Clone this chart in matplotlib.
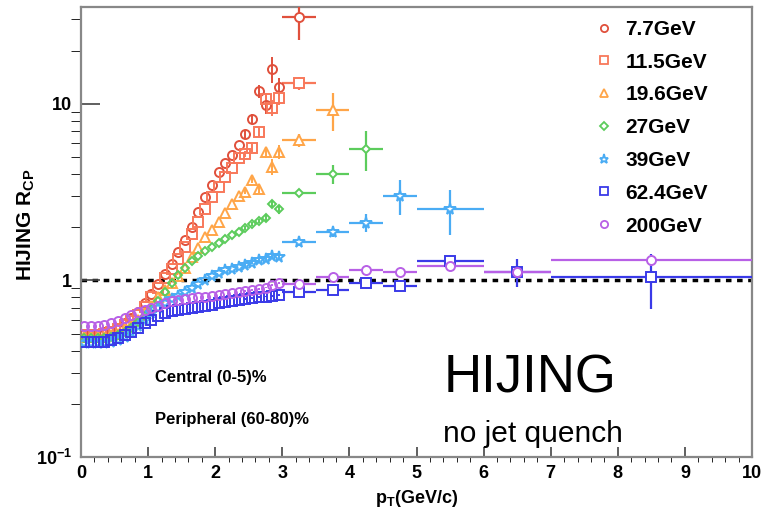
import matplotlib
matplotlib.use("Agg")
import matplotlib.pyplot as plt
from matplotlib.lines import Line2D
from matplotlib.ticker import FixedLocator, FixedFormatter, MultipleLocator

plt.rcParams["font.family"] = ["Liberation Sans", "DejaVu Sans"]
plt.rcParams["font.weight"] = "bold"
plt.rcParams["mathtext.fontset"] = "custom"
plt.rcParams["mathtext.rm"] = "Liberation Sans:bold"
plt.rcParams["mathtext.bf"] = "Liberation Sans:bold"
plt.rcParams["mathtext.it"] = "Liberation Sans:bold"

# fine pT bins (width 0.1)
pt_fine = [0.05, 0.15, 0.25, 0.35, 0.45, 0.55, 0.65, 0.75, 0.85, 0.95,
           1.05, 1.15, 1.25, 1.35, 1.45, 1.55, 1.65, 1.75, 1.85, 1.95,
           2.05, 2.15, 2.25, 2.35, 2.45, 2.55, 2.65, 2.75, 2.85, 2.95]
# wide pT bins
pt_wide = [3.25, 3.75, 4.25, 4.75, 5.5, 6.5, 8.5]
pt_wide_hw = [0.25, 0.25, 0.25, 0.25, 0.5, 0.5, 1.5]

labels = ["7.7GeV", "11.5GeV", "19.6GeV", "27GeV", "39GeV", "62.4GeV", "200GeV"]

r77 = [0.50, 0.50, 0.50, 0.51, 0.52, 0.54, 0.57, 0.61, 0.66, 0.74,
       0.84, 0.96, 1.08, 1.23, 1.44, 1.70, 2.00, 2.45, 2.95, 3.45,
       4.10, 4.60, 5.15, 5.85, 6.70, 8.20, 11.8, 9.9, 15.8, 12.5]
r115 = [0.49, 0.49, 0.49, 0.50, 0.51, 0.53, 0.56, 0.59, 0.64, 0.71,
        0.80, 0.91, 1.03, 1.16, 1.33, 1.55, 1.82, 2.15, 2.55, 2.95,
        3.40, 3.85, 4.35, 4.90, 5.20, 5.60, 6.90, 10.7, 9.5, 10.8]
r196 = [0.48, 0.48, 0.48, 0.48, 0.49, 0.50, 0.53, 0.56, 0.60, 0.65,
        0.72, 0.80, 0.88, 0.97, 1.06, 1.18, 1.35, 1.53, 1.75, 1.94,
        2.15, 2.42, 2.69, 3.02, 3.18, 3.70, 3.31, 5.30, 4.40, 5.35]
r27 = [0.47, 0.47, 0.47, 0.47, 0.48, 0.49, 0.51, 0.54, 0.58, 0.63,
       0.69, 0.76, 0.86, 0.97, 1.07, 1.17, 1.28, 1.37, 1.46, 1.54,
       1.62, 1.71, 1.80, 1.88, 1.98, 2.08, 2.17, 2.25, 2.72, 2.52]
r39 = [0.44, 0.44, 0.44, 0.44, 0.45, 0.46, 0.48, 0.51, 0.55, 0.60,
       0.65, 0.70, 0.74, 0.78, 0.82, 0.86, 0.90, 0.95, 1.00, 1.06,
       1.10, 1.14, 1.16, 1.19, 1.22, 1.26, 1.31, 1.33, 1.37, 1.36]
r624 = [0.45, 0.45, 0.45, 0.45, 0.46, 0.47, 0.49, 0.51, 0.54, 0.57,
        0.60, 0.63, 0.65, 0.67, 0.68, 0.69, 0.70, 0.71, 0.72, 0.73,
        0.745, 0.75, 0.76, 0.775, 0.78, 0.79, 0.805, 0.81, 0.82, 0.83]
r200 = [0.55, 0.55, 0.55, 0.56, 0.57, 0.59, 0.61, 0.64, 0.66, 0.68,
        0.70, 0.72, 0.74, 0.76, 0.77, 0.78, 0.79, 0.80, 0.81, 0.82,
        0.83, 0.84, 0.85, 0.86, 0.87, 0.88, 0.89, 0.91, 0.94, 0.97]

# y errors on the last six fine bins (pT 2.45 - 2.95)
tail77 = [0.3, 0.5, 1.0, 1.2, 2.7, 1.5]
tail115 = [0.2, 0.3, 0.4, 0.8, 1.0, 1.0]
tail196 = [0.1, 0.15, 0.2, 0.4, 0.45, 0.5]
tail27 = [0.04, 0.05, 0.06, 0.08, 0.15, 0.15]
tail39 = [0.03, 0.03, 0.04, 0.04, 0.05, 0.05]
tail624 = [0.01, 0.01, 0.01, 0.01, 0.01, 0.01]
tail200 = [0.01, 0.01, 0.01, 0.01, 0.01, 0.01]

w77, we77 = [31.0], [8.0]
w115, we115 = [13.1], [1.1]
w196, we196 = [6.2, 9.25], [0.5, 2.2]
w27, we27 = [3.14, 4.0, 5.57], [0.15, 0.5, 1.4]
w39, we39 = [1.64, 1.87, 2.12, 3.02, 2.52], [0.08, 0.12, 0.25, 0.68, 0.72]
w624, we624 = [0.855, 0.88, 0.97, 0.93, 1.28, 1.12, 1.05], [0.02, 0.03, 0.05, 0.06, 0.1, 0.2, 0.36]
w200, we200 = [0.95, 1.04, 1.14, 1.12, 1.2, 1.12, 1.3], [0.02, 0.03, 0.04, 0.05, 0.06, 0.08, 0.1]

series = [
    (r77, tail77, w77, we77, "#e0503c", "o", 6.5),
    (r115, tail115, w115, we115, "#f8785a", "s", 6.5),
    (r196, tail196, w196, we196, "#ffa548", "^", 6.5),
    (r27, tail27, w27, we27, "#5ccc5c", "D", 4.5),
    (r39, tail39, w39, we39, "#4aacf4", "*", 8.5),
    (r624, tail624, w624, we624, "#3a3ae8", "s", 6.5),
    (r200, tail200, w200, we200, "#b860e6", "o", 6.5),
]

fig = plt.figure(figsize=(7.64, 5.08), dpi=100)
ax = fig.add_axes([81 / 764, 51 / 508, 671 / 764, 450 / 508])

ax.axhline(1.0, color="black", lw=2.5, ls=(0, (1.6, 1.6)), zorder=1)

for vals, tail, wv, we, col, mk, ms in series:
    yerr = [0.0] * (len(vals) - len(tail)) + tail
    ax.errorbar(pt_fine, vals, yerr=yerr, fmt=mk, color=col, mfc="none",
                mec=col, ms=ms, mew=1.4, elinewidth=1.4, capsize=0, zorder=3)
    n = len(wv)
    ax.errorbar(pt_wide[:n], wv, yerr=we, xerr=pt_wide_hw[:n], fmt=mk, color=col,
                mfc="white", mec=col, ms=ms, mew=1.4, elinewidth=1.6, capsize=0, zorder=3)

ax.set_yscale("log")
ax.set_xlim(0, 10)
ax.set_ylim(0.1, 35.3)

ax.xaxis.set_major_locator(MultipleLocator(1))
ax.xaxis.set_minor_locator(MultipleLocator(0.2))
ax.yaxis.set_major_locator(FixedLocator([0.1, 1, 10]))
ax.yaxis.set_major_formatter(FixedFormatter([r"$\mathbf{10^{-1}}$", "1", "10"]))
ax.yaxis.set_minor_locator(FixedLocator([0.2, 0.3, 0.4, 0.5, 0.6, 0.7, 0.8, 0.9,
                                         2, 3, 4, 5, 6, 7, 8, 9, 20, 30]))
ax.yaxis.set_minor_formatter(FixedFormatter([""] * 18))

ax.tick_params(axis="both", direction="in", top=False, right=False, colors="#444444",
               labelcolor="black", labelsize=13, width=1.2)
ax.tick_params(axis="x", which="major", length=7, pad=6)
ax.tick_params(axis="x", which="minor", length=3.5)
ax.tick_params(axis="y", which="major", length=14, pad=6.5)
ax.tick_params(axis="y", which="minor", length=7)
for lab in ax.get_xticklabels() + ax.get_yticklabels():
    lab.set_fontweight("bold")

for sp in ax.spines.values():
    sp.set_color("#888888")
    sp.set_linewidth(1.6)

ax.set_xlabel(r"$\mathbf{p_{T}}$(GeV/c)", fontsize=13, fontweight="bold", labelpad=4)
ax.set_ylabel(r"HIJING R$_{\mathbf{CP}}$", fontsize=15, fontweight="bold")
ax.yaxis.set_label_coords(-0.0656, 0.516)

ax.text(1.1, 0.283, "Central (0-5)%", fontsize=12, fontweight="bold", va="center")
ax.text(1.1, 0.162, "Peripheral (60-80)%", fontsize=12, fontweight="bold", va="center")
ax.text(5.4, 0.233, "HIJING", fontsize=38, fontweight="normal", va="baseline")
ax.text(5.4, 0.1216, "no jet quench", fontsize=21.5, fontweight="normal", va="baseline")

handles = [Line2D([], [], ls="none", marker=mk, mfc="none", mec=col, mew=1.3, ms=ms * 0.8)
           for _, _, _, _, col, mk, ms in series]
ax.legend(handles, labels, loc="upper left", bbox_to_anchor=(594 / 764, 1 - 20 / 508),
          bbox_transform=fig.transFigure, frameon=False, handlelength=1.0,
          handletextpad=0.5, labelspacing=0.66, borderpad=0, borderaxespad=0,
          prop={"weight": "bold", "size": 15})

fig.savefig("out.png", dpi=100)
